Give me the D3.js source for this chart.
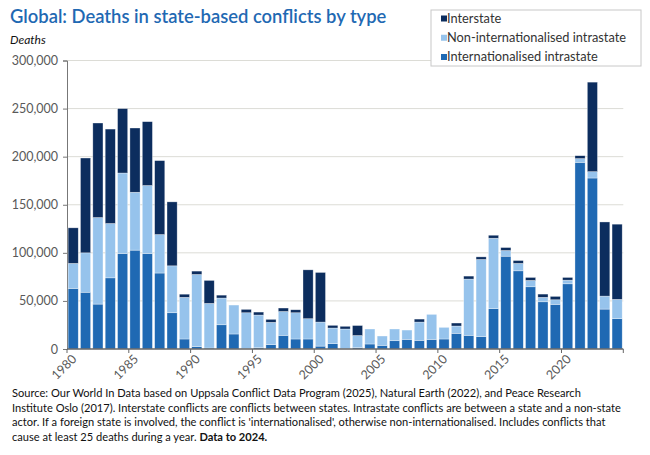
<!DOCTYPE html>
<html><head><meta charset="utf-8">
<script src="https://cdn.jsdelivr.net/npm/d3@7"></script>
<style>
body{margin:0;background:#fff;}
svg{font-family:Lato,"Noto Sans",sans-serif;}
</style></head>
<body><svg id="c" width="650" height="455"></svg>
<script>
const years = d3.range(1980, 2025);
// values in thousands of deaths
const internationalised = [63,59,46.7,74,99.3,102.8,99.3,79,37.7,10.4,2.5,1,25.2,15.6,0.5,1.3,4.5,14.2,10.4,10.4,3,5.5,0.5,1.5,5.2,3.8,8.6,10,9,10,10.4,16.3,14.2,12.8,41.9,96.5,81.3,64.7,49.1,46.4,67.8,194.1,177.8,41.5,31.5];
const nonInternationalised = [26,41,90,56.5,83.7,60.2,70.7,40,48.8,43.3,75,46.4,27.8,30.1,37.2,34,23.2,24.8,27.3,21.1,25,16.3,20.3,12.5,15.6,9.7,12.2,9.7,19,26,12.1,7.6,58.5,80.3,73.3,5.9,7.7,6.6,4.6,4.8,3.8,3.9,6.6,13.5,20.1];
const interstate = [37,98.6,98.3,98.2,67,66.8,66.4,76.9,66.5,3.3,3.5,23.9,3,0,3.5,3.1,3.1,3.6,3.1,50.8,51.6,2.8,2.8,10.4,0,0,0,0,3.1,0,0,3.1,3.1,2.7,3.1,3.1,3,3.1,3.4,3.5,2.8,3,93.1,77.1,78.2];
const yTicks = [0,50000,100000,150000,200000,250000,300000];
const xTickYears = [1980,1985,1990,1995,2000,2005,2010,2015,2020];
const seriesNames = ["Interstate","Non-internationalised intrastate","Internationalised intrastate"];
const seriesKeys = ["intl","nonintl","inter"];
const colors = {intl:"#1f69b3", nonintl:"#96c3ec", inter:"#0c2d5e"};

const rows = years.map((y,i)=>({year:y, intl:internationalised[i]*1000, nonintl:nonInternationalised[i]*1000, inter:interstate[i]*1000}));

const svg = d3.select("#c");
const L=67, R=623.3, T=60.5, B=349;
const x = d3.scaleBand().domain(years).range([L,R]).paddingInner(0.18).paddingOuter(0.09);
const y = d3.scaleLinear().domain([0,300000]).range([B,T]);
const step = (R-L)/years.length;

// title
svg.append("text").attr("x",10).attr("y",23).attr("fill","#1f69b3").attr("font-size",18.4).attr("font-weight",600).text("Global: Deaths in state-based conflicts by type");
svg.append("text").attr("x",10).attr("y",44).attr("font-size",12).attr("font-style","italic").attr("fill","#111").text("Deaths");

// gridlines
svg.append("g").selectAll("line").data(yTicks.filter(d=>d>0)).join("line")
  .attr("x1",L).attr("x2",R).attr("y1",d=>y(d)).attr("y2",d=>y(d)).attr("stroke","#dcdcd6").attr("stroke-width",1);

// y axis
const yAxis = svg.append("g").attr("transform",`translate(${L},0)`)
  .call(d3.axisLeft(y).tickValues(yTicks).tickFormat(d3.format(",")).tickSize(4).tickPadding(5));
yAxis.select(".domain").attr("stroke","#777");
yAxis.selectAll(".tick line").attr("stroke","#777");
yAxis.selectAll("text").attr("font-size",12.5).attr("fill","#595959").attr("font-family","Lato,sans-serif");

// bars
const stack = d3.stack().keys(seriesKeys)(rows);
svg.append("g").selectAll("g").data(stack).join("g").attr("fill",d=>colors[d.key])
  .selectAll("rect").data(d=>d.filter(p=>p[1]-p[0]>0)).join("rect")
  .attr("x",d=>x(d.data.year)).attr("width",x.bandwidth())
  .attr("y",d=>y(d[1])).attr("height",d=>y(d[0])-y(d[1]))
  .attr("stroke","#ffffff").attr("stroke-opacity",0.55).attr("stroke-width",0.6);

// x axis
const xg = svg.append("g");
xg.append("line").attr("x1",L).attr("x2",R).attr("y1",B).attr("y2",B).attr("stroke","#666").attr("stroke-width",1.5);
const tickX = d => L + (d-1980)*step;
xg.selectAll("line.t").data(xTickYears.concat([2025])).join("line").attr("class","t")
  .attr("x1",d=>tickX(d)).attr("x2",d=>tickX(d)).attr("y1",B).attr("y2",B+4).attr("stroke","#666");
xg.selectAll("text").data(xTickYears).join("text")
  .attr("transform",d=>`translate(${tickX(d)-3},${B+18}) rotate(-45)`)
  .attr("text-anchor","middle").attr("dy","0.35em").attr("font-size",12.5).attr("fill","#595959").text(d=>d);

// legend
const lg = svg.append("g");
lg.append("rect").attr("x",431).attr("y",10).attr("width",210).attr("height",56).attr("fill","#fff").attr("stroke","#c8c8c8");
const legKeys = ["inter","nonintl","intl"];
const legY = d3.scalePoint().domain(legKeys).range([18.5,57]);
lg.selectAll("rect.m").data(legKeys).join("rect").attr("class","m")
  .attr("x",441).attr("y",d=>legY(d)-3).attr("width",6).attr("height",6).attr("fill",d=>colors[d]);
lg.selectAll("text").data(legKeys).join("text")
  .attr("x",447).attr("y",d=>legY(d)).attr("dy","0.35em").attr("font-size",12.8).attr("fill","#333")
  .text((d,i)=>seriesNames[i]);

// footer
const foot = [
 "Source: Our World In Data based on Uppsala Conflict Data Program (2025), Natural Earth (2022), and Peace Research",
 "Institute Oslo (2017). Interstate conflicts are conflicts between states. Intrastate conflicts are between a state and a non-state",
 "actor. If a foreign state is involved, the conflict is 'internationalised', otherwise non-internationalised. Includes conflicts that",
 "cause at least 25 deaths during a year. "
];
const ft = svg.append("g").attr("font-size",11.1).attr("fill","#111");
foot.forEach((s,i)=>{
  const t = ft.append("text").attr("x",12).attr("y",397+i*14.5).text(s);
  if(i===3) t.append("tspan").attr("font-weight",700).text("Data to 2024.");
});
</script></body></html>
